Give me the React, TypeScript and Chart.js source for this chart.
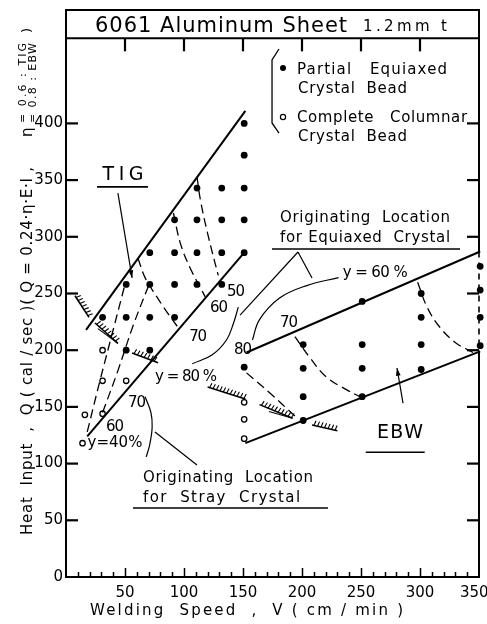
import React, { useEffect, useRef } from "react";
import { Chart, registerables } from "chart.js";

Chart.register(...registerables);

const FONT = '"DejaVu Sans", "Liberation Sans", sans-serif';

type P = [number, number];

// ---- axis ticks ----
const xTickValues = [0, 50, 100, 150, 200, 250, 300, 350];
const yTickValues = [0, 50, 100, 150, 200, 250, 300, 350, 400];
const sideTickValues = [50, 100, 150, 200, 250, 300, 350, 400];
const topTickValues = [50, 100, 150, 200, 250, 300];
const minorStep = 10;

// ---- bead data (Welding speed cm/min, Heat input cal/sec) ----
const tigEquiaxed: P[] = [
  [151, 400], [151, 372], [151, 343], [151, 315], [151, 286],
  [132, 343], [132, 315], [132, 286], [132, 258],
  [111, 343], [111, 315], [111, 286], [111, 258],
  [92, 315], [92, 286], [92, 258], [92, 229],
  [71, 286], [71, 258], [71, 229], [71, 200],
  [51, 258], [51, 229], [51, 200],
  [31, 229],
];
const tigColumnar: P[] = [
  [31, 200], [31, 173], [51, 173], [16, 143], [31, 144], [14, 118],
];
const ebwEquiaxed: P[] = [
  [151, 185],
  [201, 205], [201, 184], [201, 159], [201, 138],
  [251, 243], [251, 205], [251, 184], [251, 159],
  [301, 250], [301, 229], [301, 205], [301, 183],
  [351, 274], [351, 253], [351, 229], [351, 204],
];
const ebwColumnar: P[] = [[151, 154], [151, 139], [151, 122]];

// ---- region boundaries ----
const tigUpper: P[] = [[17, 218], [152, 411]];
const tigLower: P[] = [[18, 124], [151, 286]];
const ebwUpper: P[] = [[153, 198], [351, 287]];
const ebwLower: P[] = [[152, 118], [351, 199]];

// ---- iso-lines of equiaxed ratio y (dashed) ----
const tigIso70: P[] = [[61, 281], [67, 264], [77, 247], [86, 233], [95, 220]];
const tigIso60: P[] = [[91, 321], [97, 294], [105, 273], [118, 247]];
const tigIso50: P[] = [[111, 353], [114, 332], [120, 303], [129, 266]];
const tigIso40Low: P[] = [[18, 128], [29, 174], [40, 218], [50, 258]];
const tigIso60Low: P[] = [[31, 145], [44, 182], [57, 222], [70, 257]];
const ebwIso80: P[] = [[153, 180], [173, 162], [196, 140]];
const ebwIso70: P[] = [[194, 212], [207, 193], [221, 176], [238, 165], [249, 159]];
const ebwIso60: P[] = [[298, 260], [306, 238], [317, 220], [331, 206], [345, 198]];

// ---- originating-location curves (thin solid) ----
const tigOrigin: P[] = [[146, 238], [142, 224], [136, 209], [124, 196], [107, 188]];
const ebwOrigin: P[] = [[158, 209], [164, 227], [181, 246], [204, 257], [231, 264]];
const strayOrigin: P[] = [[67, 159], [72, 145], [73, 132], [71, 117], [68, 106]];

// ---- hatched limit marks (start, end) ----
const hatches: P[][] = [
  [[7.6, 248], [19.5, 229]],
  [[24.6, 224], [44, 206]],
  [[56, 197.5], [78, 189]],
  [[120, 167.5], [152, 157]],
  [[164, 152], [192, 140]],
  [[208.5, 134], [230, 129]],
];
const wedges: P[][] = [
  [[27, 219], [44, 206]],
  [[172, 146], [192, 140]],
];

// ---- leader lines / arrows / underlines ----
const leaders: P[][] = [
  [[196.6, 286.6], [147.5, 231]],
  [[196.6, 286.6], [208.5, 263.7]],
  [[75.4, 127.9], [111, 98.8]],
];
const arrows: P[][] = [
  [[44, 338.6], [56, 263.7]],
  [[285.6, 153.4], [280.5, 184.3]],
];
const underlines: P[][] = [
  [[26.3, 344], [69.5, 344]],
  [[174.6, 289.2], [333.9, 289.2]],
  [[56.8, 60.8], [222, 60.8]],
  [[254, 110], [304, 110]],
];

// ---- texts (value-space anchors) ----
type Label = { text: string; x: number; y: number; size: number; width: number; align: "left" | "center" };
const labels: Label[] = [
  { text: "TIG", x: 48.3, y: 354.5, size: 19, width: 41, align: "center" },
  { text: "EBW", x: 283, y: 127, size: 19, width: 46, align: "center" },
  { text: "y = 80 %", x: 101.7, y: 176.4, size: 15, width: 62, align: "center" },
  { text: "70", x: 112, y: 211.6, size: 15, width: 18, align: "center" },
  { text: "60", x: 129.7, y: 237.2, size: 15, width: 18, align: "center" },
  { text: "50", x: 144, y: 251.3, size: 15, width: 18, align: "center" },
  { text: "70", x: 60.2, y: 153.4, size: 15, width: 18, align: "center" },
  { text: "60", x: 41.5, y: 132.3, size: 15, width: 18, align: "center" },
  { text: "y=40%", x: 41.5, y: 118.2, size: 15, width: 55, align: "center" },
  { text: "70", x: 189, y: 224, size: 15, width: 18, align: "center" },
  { text: "80", x: 150, y: 200.2, size: 15, width: 18, align: "center" },
  { text: "y = 60 %", x: 262, y: 268, size: 15, width: 65, align: "center" },
  { text: "Originating  Location", x: 181.4, y: 316.6, size: 15, width: 170, align: "left" },
  { text: "for Equiaxed  Crystal", x: 181.4, y: 298.9, size: 15, width: 170, align: "left" },
  { text: "Originating  Location", x: 65.3, y: 87.3, size: 15, width: 170, align: "left" },
  { text: "for  Stray  Crystal", x: 65.3, y: 69.7, size: 15, width: 157, align: "left" },
  { text: "Partial   Equiaxed", x: 195.8, y: 447, size: 15, width: 150, align: "left" },
  { text: "Crystal  Bead", x: 196.6, y: 430.3, size: 15, width: 109, align: "left" },
  { text: "Complete   Columnar", x: 195.8, y: 404.8, size: 15, width: 170, align: "left" },
  { text: "Crystal  Bead", x: 196.6, y: 388, size: 15, width: 109, align: "left" },
  { text: "6061 Aluminum Sheet", x: 24.6, y: 485.5, size: 21, width: 252, align: "left" },
  { text: "1.2mm t", x: 251.7, y: 485, size: 15, width: 84, align: "left" },
];
const legendMarks: P[] = [[183.9, 448.9], [183.9, 405.6]];
const legendBracket: P[] = [[180.5, 465.6], [174.6, 455.9], [174.6, 400.4], [180.5, 391.5]];
const titleBandValue = 475;

function drawFitted(ctx: any, text: string, x: number, y: number, width: number, align: string) {
  ctx.textAlign = "left";
  const hasLS = "letterSpacing" in ctx;
  if (hasLS) ctx.letterSpacing = "0px";
  const w0 = ctx.measureText(text).width;
  const n = Math.max(text.length - 1, 1);
  const ls = (width - w0) / n;
  const left = align === "center" ? x - width / 2 : x;
  if (hasLS) {
    ctx.letterSpacing = ls + "px";
    ctx.fillText(text, left, y);
    ctx.letterSpacing = "0px";
  } else {
    let cx = left;
    for (const ch of text) {
      ctx.fillText(ch, cx, y);
      cx += ctx.measureText(ch).width + ls;
    }
  }
}

const pts = (a: P[]) => a.map(([x, y]) => ({ x, y }));

function seg(ctx: any, x1: number, y1: number, x2: number, y2: number, w: number) {
  ctx.lineWidth = w;
  ctx.beginPath();
  ctx.moveTo(x1, y1);
  ctx.lineTo(x2, y2);
  ctx.stroke();
}

const decorPlugin = {
  id: "decor",
  afterDraw(chart: any) {
    const ctx = chart.ctx;
    const xs = chart.scales.x;
    const ys = chart.scales.y;
    const ca = chart.chartArea;
    const px = (v: number) => xs.getPixelForValue(v);
    const py = (v: number) => ys.getPixelForValue(v);
    ctx.save();
    ctx.setLineDash([]);
    ctx.lineCap = "butt";
    ctx.strokeStyle = "#000";
    ctx.fillStyle = "#000";

    const band = py(titleBandValue);
    const rUp = py(ebwUpper[1][1]);
    const rLo = py(ebwLower[1][1]);
    seg(ctx, ca.left - 1, ca.top, ca.right + 1, ca.top, 2);
    seg(ctx, ca.left, band, ca.right, band, 2);
    seg(ctx, ca.right, ca.top, ca.right, rUp, 2);
    seg(ctx, ca.right, rLo, ca.right, ca.bottom + 1, 2);
    ctx.setLineDash([6, 5]);
    seg(ctx, ca.right, rUp, ca.right, rLo, 1.6);
    ctx.setLineDash([]);

    // inward ticks
    for (let i = 0; i < sideTickValues.length; i++) {
      const yy = py(sideTickValues[i]);
      ctx.fillRect(ca.left, yy - 1.1, 12, 2.2);
      ctx.fillRect(ca.right - 12, yy - 1.1, 12, 2.2);
    }
    for (let i = 0; i < topTickValues.length; i++) {
      const xx = px(topTickValues[i]);
      ctx.fillRect(xx - 1.1, band, 2.2, 13);
    }
    for (let v = minorStep; v < 350; v += minorStep) {
      const len = v % 50 === 0 ? 9 : 5;
      const xx = Math.round(px(v)) + 0.5;
      seg(ctx, xx, ca.bottom, xx, ca.bottom - len, 1.5);
    }

    for (const h of hatches) {
      const ax = px(h[0][0]), ay = py(h[0][1]);
      const bx = px(h[1][0]), by = py(h[1][1]);
      const L = Math.hypot(bx - ax, by - ay);
      const dx = (bx - ax) / L, dy = (by - ay) / L;
      let nx = dy, ny = -dx;
      if (ny > 0) { nx = -nx; ny = -ny; }
      seg(ctx, ax, ay, bx, by, 1.6);
      ctx.lineWidth = 1.1;
      ctx.beginPath();
      for (let t = 2; t < L - 1; t += 3.6) {
        const sx = ax + dx * t, sy = ay + dy * t;
        ctx.moveTo(sx, sy);
        ctx.lineTo(sx + nx * 5 + dx * 1, sy + ny * 5 + dy * 1);
      }
      ctx.stroke();
    }
    for (const w of wedges) {
      seg(ctx, px(w[0][0]), py(w[0][1]), px(w[1][0]), py(w[1][1]), 1.1);
    }

    for (const l of leaders) seg(ctx, px(l[0][0]), py(l[0][1]), px(l[1][0]), py(l[1][1]), 1.2);
    for (const l of underlines) seg(ctx, px(l[0][0]), py(l[0][1]), px(l[1][0]), py(l[1][1]), 1.6);

    for (const a of arrows) {
      const ax = px(a[0][0]), ay = py(a[0][1]);
      const bx = px(a[1][0]), by = py(a[1][1]);
      seg(ctx, ax, ay, bx, by, 1.2);
      const ang = Math.atan2(by - ay, bx - ax);
      ctx.beginPath();
      ctx.moveTo(bx, by);
      ctx.lineTo(bx - 8 * Math.cos(ang - 0.3), by - 8 * Math.sin(ang - 0.3));
      ctx.lineTo(bx - 8 * Math.cos(ang + 0.3), by - 8 * Math.sin(ang + 0.3));
      ctx.closePath();
      ctx.fill();
    }

    ctx.lineWidth = 1.3;
    ctx.beginPath();
    legendBracket.forEach(([x, y], i) => (i ? ctx.lineTo(px(x), py(y)) : ctx.moveTo(px(x), py(y))));
    ctx.stroke();
    ctx.beginPath();
    ctx.arc(px(legendMarks[0][0]), py(legendMarks[0][1]), 3, 0, Math.PI * 2);
    ctx.fill();
    ctx.beginPath();
    ctx.lineWidth = 1.2;
    ctx.arc(px(legendMarks[1][0]), py(legendMarks[1][1]), 2.6, 0, Math.PI * 2);
    ctx.stroke();

    ctx.textBaseline = "middle";
    for (const lb of labels) {
      ctx.font = `${lb.size}px ${FONT}`;
      drawFitted(ctx, lb.text, px(lb.x), py(lb.y), lb.width, lb.align);
    }

    ctx.font = `15px ${FONT}`;
    drawFitted(ctx, "Welding  Speed  ,  V ( cm / min )", 90, 611, 313, "left");

    ctx.save();
    ctx.translate(28, 535);
    ctx.rotate(-Math.PI / 2);
    ctx.font = `15px ${FONT}`;
    drawFitted(ctx, "Heat  Input  ,  Q ( cal / sec )( Q = 0.24·η·E·I ,", 0, 0, 368, "left");
    ctx.font = `15px ${FONT}`;
    drawFitted(ctx, "η", 398, 0, 10, "left");
    ctx.font = `11px ${FONT}`;
    drawFitted(ctx, "= 0.6 : TIG", 412, -5, 80, "left");
    drawFitted(ctx, "= 0.8 : EBW", 412, 5, 80, "left");
    ctx.font = `13px ${FONT}`;
    drawFitted(ctx, ")", 502, 0, 5, "left");
    ctx.restore();

    ctx.restore();
  },
};

const lineDs = (label: string, data: P[], opts: any = {}) => ({
  label,
  data: pts(data),
  showLine: true,
  pointRadius: 0,
  borderColor: "#000",
  borderWidth: 2,
  fill: false,
  clip: false,
  ...opts,
});

export default function App() {
  const ref = useRef<HTMLCanvasElement | null>(null);
  useEffect(() => {
    if (!ref.current) return;
    const dashed = { borderWidth: 1.3, borderDash: [9, 5], tension: 0.4 };
    const thin = { borderWidth: 1.2, tension: 0.4 };
    const chart = new Chart(ref.current, {
      type: "scatter",
      data: {
        datasets: [
          lineDs("TIG upper", tigUpper),
          lineDs("TIG lower", tigLower),
          lineDs("EBW upper", ebwUpper),
          lineDs("EBW lower", ebwLower),
          lineDs("TIG y=70%", tigIso70, dashed),
          lineDs("TIG y=60%", tigIso60, dashed),
          lineDs("TIG y=50%", tigIso50, dashed),
          lineDs("TIG y=40% low", tigIso40Low, dashed),
          lineDs("TIG y=60% low", tigIso60Low, dashed),
          lineDs("EBW y=80%", ebwIso80, dashed),
          lineDs("EBW y=70%", ebwIso70, dashed),
          lineDs("EBW y=60%", ebwIso60, dashed),
          lineDs("TIG origin", tigOrigin, thin),
          lineDs("EBW origin", ebwOrigin, thin),
          lineDs("Stray origin", strayOrigin, thin),
          {
            label: "Partial Equiaxed Crystal Bead",
            data: pts([...tigEquiaxed, ...ebwEquiaxed]),
            pointRadius: 3.4,
            pointBackgroundColor: "#000",
            pointBorderColor: "#000",
            pointBorderWidth: 0,
            clip: false,
          },
          {
            label: "Complete Columnar Crystal Bead",
            data: pts([...tigColumnar, ...ebwColumnar]),
            pointRadius: 2.7,
            pointBackgroundColor: "#fff",
            pointBorderColor: "#000",
            pointBorderWidth: 1.3,
            clip: false,
          },
        ],
      },
      options: {
        animation: false,
        responsive: false,
        devicePixelRatio: 1,
        events: [],
        layout: { padding: { top: 10, right: 8, bottom: 0, left: 0 } },
        plugins: { legend: { display: false }, tooltip: { enabled: false } },
        scales: {
          x: {
            type: "linear",
            min: 0,
            max: 350,
            afterBuildTicks: (s: any) => {
              s.ticks = xTickValues.map((v) => ({ value: v }));
            },
            ticks: {
              callback: (v: any) => (v === 0 ? "" : v === 350 ? "350  " : String(v)),
              font: { family: FONT, size: 15 },
              color: "#000",
              padding: 7,
              maxRotation: 0,
              autoSkip: false,
            },
            grid: { display: false, drawTicks: false },
            border: { display: true, color: "#000", width: 2 },
            afterFit: (s: any) => {
              s.height = 47;
              s.paddingLeft = 0;
              s.paddingRight = 0;
            },
          },
          y: {
            type: "linear",
            min: 0,
            max: 500,
            afterBuildTicks: (s: any) => {
              s.ticks = yTickValues.map((v) => ({ value: v }));
            },
            ticks: {
              font: { family: FONT, size: 15 },
              color: "#000",
              padding: 3,
            },
            grid: { display: false, drawTicks: false },
            border: { display: true, color: "#000", width: 2 },
            afterFit: (s: any) => {
              s.width = 66;
              s.paddingTop = 0;
              s.paddingBottom = 0;
            },
          },
        },
      } as any,
      plugins: [decorPlugin],
    });
    return () => chart.destroy();
  }, []);
  return (
    <div style={{ position: "absolute", left: 0, top: 0, width: 487, height: 624, background: "#fff" }}>
      <canvas ref={ref} width={487} height={624} style={{ width: 487, height: 624, display: "block" }} />
    </div>
  );
}
